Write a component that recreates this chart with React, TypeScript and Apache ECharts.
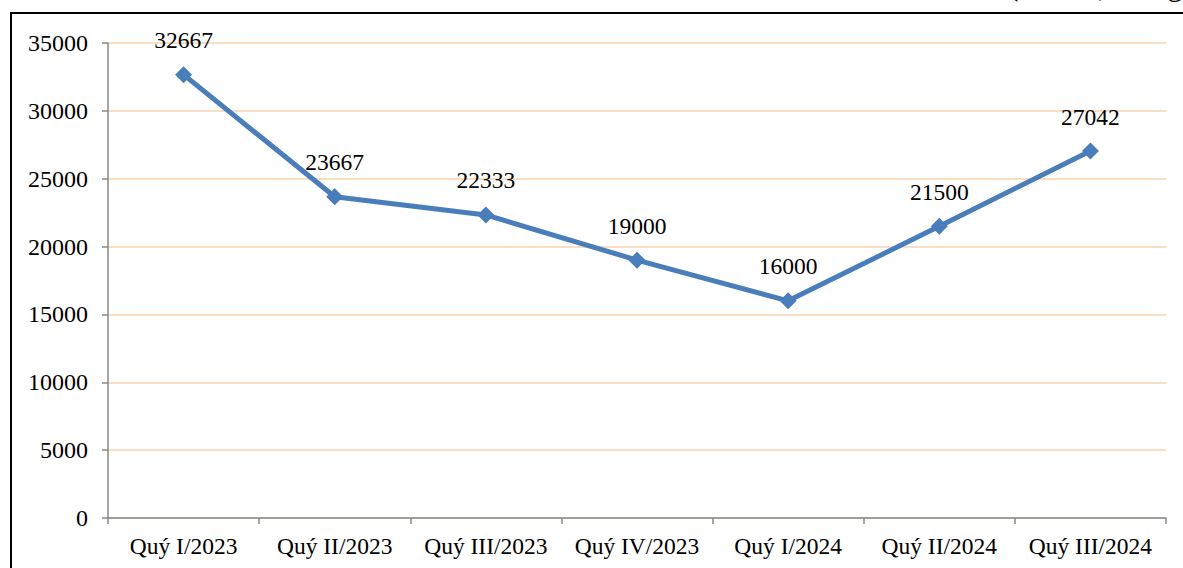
import React, { useEffect, useRef } from "react";
import * as echarts from "echarts";

const categories = [
  "Quý I/2023",
  "Quý II/2023",
  "Quý III/2023",
  "Quý IV/2023",
  "Quý I/2024",
  "Quý II/2024",
  "Quý III/2024",
];
const values = [32667, 23667, 22333, 19000, 16000, 21500, 27042];
const unitText = "(Đơn vị: đồng)";

const FONT = "Liberation Serif";

export default function App() {
  const ref = useRef<HTMLDivElement>(null);
  useEffect(() => {
    if (!ref.current) return;
    const chart = echarts.init(ref.current, null, { renderer: "svg" });
    chart.setOption({
      animation: false,
      backgroundColor: "#ffffff",
      textStyle: { fontFamily: FONT },
      grid: { left: 108, right: 17, top: 43, bottom: 50, containLabel: false },
      graphic: [
        {
          type: "rect",
          shape: { x: 11, y: 13, width: 1300, height: 700 },
          style: { fill: "none", stroke: "#000000", lineWidth: 2 },
          silent: true,
        },
        {
          type: "text",
          x: 1008,
          y: -16,
          style: {
            text: unitText,
            fontSize: 31,
            fontFamily: FONT,
            fill: "#000000",
            verticalAlign: "middle",
            align: "left",
          },
          silent: true,
        },
      ],
      xAxis: {
        type: "category",
        data: categories,
        boundaryGap: true,
        axisLine: { lineStyle: { color: "#898989", width: 1.5 } },
        axisTick: { show: true, length: 6, interval: 0, lineStyle: { color: "#898989", width: 1.5 } },
        axisLabel: { color: "#000000", fontSize: 23.5, fontFamily: FONT, margin: 16, interval: 0 },
        splitLine: { show: false },
      },
      yAxis: {
        type: "value",
        min: 0,
        max: 35000,
        interval: 5000,
        axisLine: { show: true, lineStyle: { color: "#898989", width: 1.5 } },
        axisTick: { show: true, length: 6, lineStyle: { color: "#898989", width: 1.5 } },
        axisLabel: {
          color: "#000000",
          fontSize: 24,
          fontFamily: FONT,
          margin: 20,
          formatter: (v: number) => String(v),
        },
        splitLine: { show: true, lineStyle: { color: "#F9D3B0", width: 1.5 } },
      },
      series: [
        {
          type: "line",
          data: values,
          symbol: "diamond",
          symbolSize: 17,
          lineStyle: { color: "#4A7EBB", width: 5 },
          itemStyle: { color: "#4A7EBB" },
          label: {
            show: true,
            position: "top",
            distance: 14,
            color: "#000000",
            fontSize: 23.5,
            fontFamily: FONT,
          },
        },
      ],
    });
    return () => chart.dispose();
  }, []);
  return (
    <div
      ref={ref}
      style={{ position: "absolute", left: 0, top: 0, width: 1183, height: 568 }}
    />
  );
}
